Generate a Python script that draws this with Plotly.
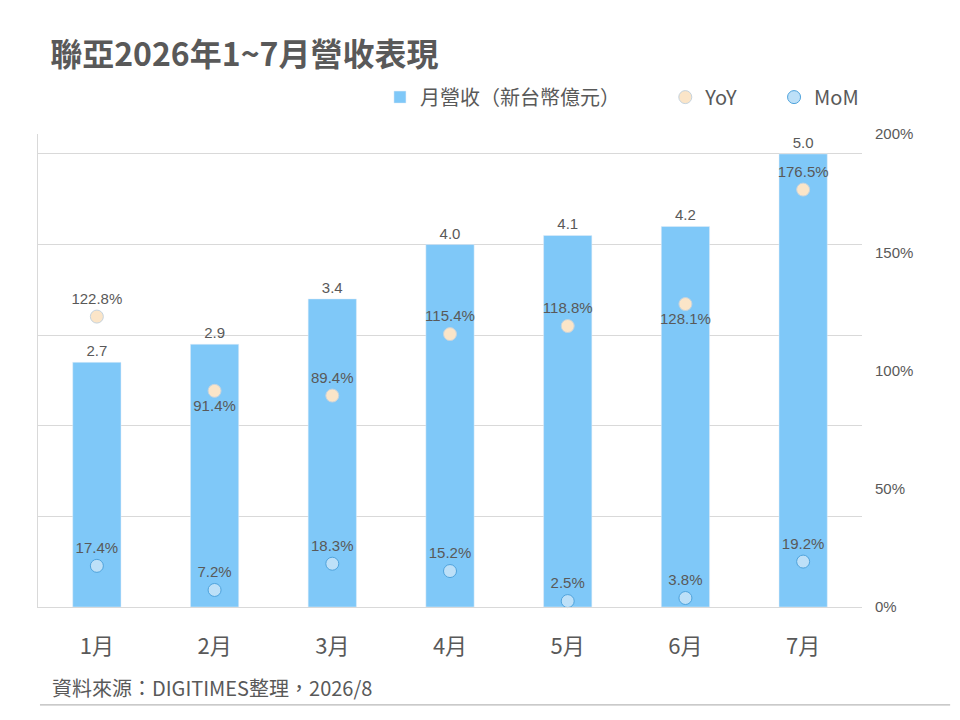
import plotly.graph_objects as go

months = ["1月", "2月", "3月", "4月", "5月", "6月", "7月"]
revenue = [2.7, 2.9, 3.4, 4.0, 4.1, 4.2, 5.0]
yoy = [122.8, 91.4, 89.4, 115.4, 118.8, 128.1, 176.5]
mom = [17.4, 7.2, 18.3, 15.2, 2.5, 3.8, 19.2]
yoy_pos = ["top center", "bottom center", "top center", "top center",
           "top center", "bottom center", "top center"]

font_cjk = "Noto Sans CJK TC, Noto Sans, sans-serif"
font_num = "Liberation Sans, Arial, sans-serif"
gray = "#595959"
pad = "\u00a0"

fig = go.Figure()
fig.add_trace(go.Bar(x=months, y=revenue, name="月營收（新台幣億元）" + pad * 9,
                     marker_color="#7FC8F8",
                     text=[f"{v:.1f}" for v in revenue], textposition="outside",
                     textfont=dict(size=15, color=gray, family=font_num), cliponaxis=False))
fig.add_trace(go.Scatter(x=months, y=yoy, name="YoY" + pad * 7, mode="markers+text", yaxis="y2",
                         marker=dict(size=13, color="#FBE5C8", line=dict(color="#C5D3DE", width=1)),
                         text=[f"{v:.1f}%" for v in yoy], textposition=yoy_pos,
                         textfont=dict(size=15, color=gray, family=font_num), cliponaxis=False))
fig.add_trace(go.Scatter(x=months, y=mom, name="MoM", mode="markers+text", yaxis="y2",
                         marker=dict(size=13, color="#BDE0F8", line=dict(color="#4FA3DC", width=1)),
                         text=[f"{v:.1f}%" for v in mom], textposition="top center",
                         textfont=dict(size=15, color=gray, family=font_num), cliponaxis=False))

# the page has an 8px body margin, so margins are shifted to compensate
fig.update_layout(
    width=960, height=720,
    margin=dict(l=30, r=106, t=126, b=121),
    plot_bgcolor="white", paper_bgcolor="white",
    font=dict(family=font_cjk, color=gray),
    bargap=0.59,
    title=dict(text="<b>聯亞2026年1~7月營收表現</b>", x=0.044, xanchor="left",
               y=0.935, yanchor="middle", font=dict(size=32, color=gray)),
    legend=dict(orientation="h", x=0.415, xanchor="left", y=1.078, yanchor="middle",
                font=dict(size=20, color=gray), bgcolor="rgba(0,0,0,0)"),
    xaxis=dict(showline=True, linecolor="#D9D9D9", tickfont=dict(size=22, color=gray),
               ticks="", ticklabelstandoff=20),
    yaxis=dict(range=[0, 5.22], dtick=1, showticklabels=False, gridcolor="#D9D9D9",
               showline=True, linecolor="#D9D9D9", zeroline=False),
    yaxis2=dict(range=[0, 200], dtick=50, overlaying="y", side="right", showgrid=False,
                ticksuffix="%", tickfont=dict(size=15, color=gray, family=font_num),
                zeroline=False, ticklabelstandoff=12),
)

fig.add_annotation(text="資料來源：DIGITIMES整理，2026/8", xref="paper", yref="paper",
                   x=0.0146, y=-0.171, xanchor="left", yanchor="middle", showarrow=False,
                   font=dict(size=20, color=gray))
fig.add_shape(type="line", xref="paper", yref="paper", x0=0.0024, x1=1.107,
              y0=-0.207, y1=-0.207, line=dict(color="#A6A6A6", width=1))

fig.write_html("out.html")
